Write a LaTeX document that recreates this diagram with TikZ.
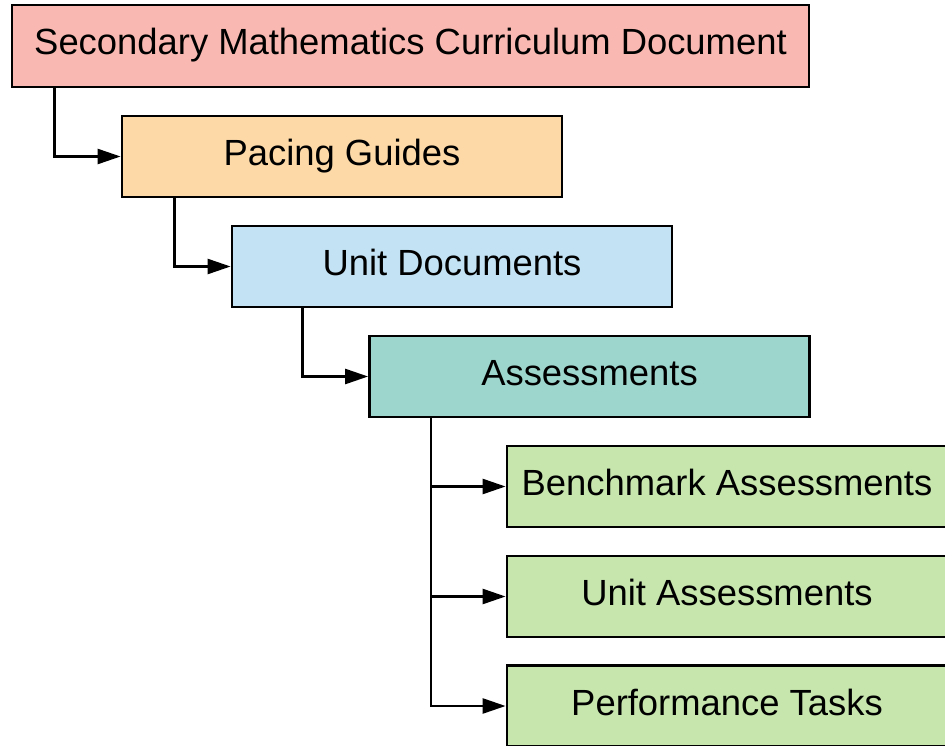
\documentclass[tikz,border=0pt]{standalone}
\usepackage{fontspec}
\setmainfont{Liberation Sans}
\usetikzlibrary{arrows.meta}
\definecolor{cRed}{HTML}{F9B9B2}
\definecolor{cOrange}{HTML}{FCD9A7}
\definecolor{cBlue}{HTML}{C3E3F4}
\definecolor{cTeal}{HTML}{9DD6CC}
\definecolor{cGreen}{HTML}{C6E6AD}
\tikzset{
  box/.style={draw=black, line width=2.8pt, minimum height=81pt,
    inner sep=0pt, text height=27pt, text depth=9pt,
    font=\fontsize{36.4}{44}\selectfont},
  wide/.style={box, minimum width=440pt},
  conn/.style={draw=black, line width=2.5pt,
    -{Triangle[length=23pt,width=15pt]}},
}
\begin{document}
\begin{tikzpicture}[x=1pt,y=-1pt]
  \useasboundingbox (0,0) rectangle (945,746);
  \clip (0,0) rectangle (945,746);

  % document hierarchy
  \node[box, fill=cRed, minimum width=797pt, minimum height=82pt] (doc) at (410.5,46) {Secondary Mathematics Curriculum Document};
  \node[wide, fill=cOrange] (pace)  at (342,156.5) {Pacing Guides};
  \node[wide, fill=cBlue]   (unit)  at (452,266.5) {Unit Documents};
  \node[wide, fill=cTeal]   (assess) at (589.5,376.5) {Assessments};
  \node[wide, fill=cGreen]  (bench) at (727,486.5) {Benchmark Assessments};
  \node[wide, fill=cGreen]  (ua)    at (727,596.5) {Unit Assessments};
  \node[wide, fill=cGreen]  (perf)  at (727,706) {Performance Tasks};

  % elbow connectors
  \draw[conn] ([xshift=44pt]doc.south west) |- (pace.west);
  \draw[conn] ([xshift=54pt]pace.south west) |- (unit.west);
  \draw[conn] ([xshift=72pt]unit.south west) |- (assess.west);
  \draw[conn] ([xshift=63pt]assess.south west) |- (bench.west);
  \draw[conn] ([xshift=63pt]assess.south west) |- (ua.west);
  \draw[conn] ([xshift=63pt]assess.south west) |- (perf.west);
\end{tikzpicture}
\end{document}
